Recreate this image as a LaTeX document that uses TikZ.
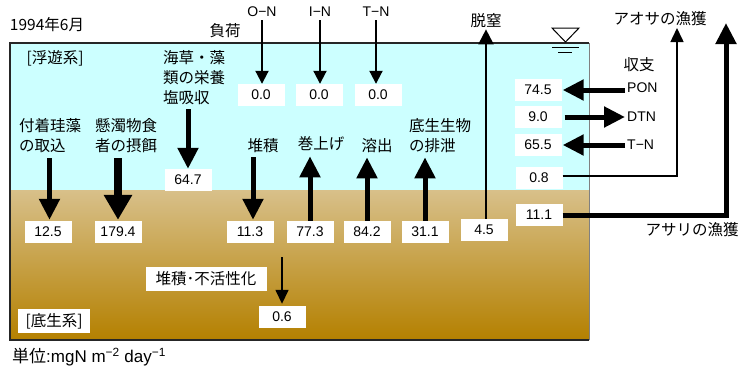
\documentclass[tikz,border=0pt]{standalone}
\usepackage{fontspec}
\setmainfont{Liberation Sans}
\newfontfamily\jp{Noto Sans CJK JP}
\usetikzlibrary{arrows.meta}
\definecolor{water}{RGB}{204,255,255}
\definecolor{sedtop}{RGB}{216,192,138}
\definecolor{sedbot}{RGB}{180,128,0}
\begin{document}
\begin{tikzpicture}[x=1pt,y=-1pt,
  jl/.style={inner sep=0pt, font=\jp\fontsize{15.5}{20}\selectfont, align=left},
  lat/.style={inner sep=0pt, font=\fontsize{14}{16}\selectfont},
  num/.style={fill=white, minimum width=47pt, minimum height=22pt, inner sep=0pt, font=\fontsize{14}{16}\selectfont},
  wbox/.style={fill=white, inner sep=0pt, minimum height=24pt, font=\jp\fontsize{15.5}{20}\selectfont},
  big/.style={line width=5pt, -{Triangle[width=20pt,length=21pt]}},
  fat/.style={line width=8pt, -{Triangle[width=27pt,length=25pt]}},
  thin/.style={line width=2pt, -{Triangle[width=13pt,length=13pt]}},
  hair/.style={line width=1.5pt, -{Triangle[width=13pt,length=14pt]}}
  ]
\useasboundingbox (0,0) rectangle (741,370);
% background
\fill[water] (10,43) rectangle (589,190);
\shade[top color=sedtop, bottom color=sedbot] (10,190) rectangle (589,340);
\draw[gray, line width=1pt] (589,43) -- (589,340);
\draw[black!85, line width=1.3pt] (589,43) -- (10,43) -- (10,340) -- (589,340);
% water surface symbol
\draw[line width=1pt] (552,28) -- (579,28) -- (565.5,42) -- cycle;
\draw[line width=1pt] (552,47) -- (579,47);
\draw[line width=1pt] (558,52) -- (572,52);

% top labels
\node[jl] (date) at (47,25) {1994年6月};
\node[jl] (fuka) at (225,31) {負荷};
\node[lat] (ON) at (262,12) {O−N};
\node[lat] (IN) at (320,12) {I−N};
\node[lat] (TN) at (376,12) {T−N};
\node[num] (n1) at (261,95) {0.0};
\node[num] (n2) at (319,95) {0.0};
\node[num] (n3) at (378,95) {0.0};
\draw[thin, shorten <=3pt] (ON.south) -- (ON.south |- n1.north);
\draw[thin, shorten <=3pt] (IN.south) -- (IN.south |- n2.north);
\draw[thin, shorten <=3pt] (TN.south) -- (TN.south |- n3.north);

% plankton side
\node[jl] (fuyu) at (55,58) {[浮遊系]};
\node[jl] (kaiso) at (194,78) {海草・藻\\類の栄養\\塩吸収};
\node[num] (b647) at (188,180) {64.7};
\draw[big, shorten <=4pt] (b647.north |- kaiso.south) -- (b647.north);

\node[jl] (fuch) at (50,136) {付着珪藻\\の取込};
\node[jl] (kend) at (126,136) {懸濁物食\\者の摂餌};
\node[num] (b125) at (48,232) {12.5};
\node[num] (b1794) at (118,232) {179.4};
\draw[big, shorten <=5pt, shorten >=1pt] ([xshift=1.5pt]b125.north |- fuch.south) -- ([xshift=1.5pt]b125.north);
\draw[fat, shorten <=5pt, shorten >=1pt] (b1794.north |- kend.south) -- (b1794.north);

\node[jl] (tai) at (263,146) {堆積};
\node[num] (b113) at (250,232) {11.3};
\draw[big, shorten <=4pt, shorten >=1pt] ([xshift=3pt]b113.north |- tai.south) -- ([xshift=3pt]b113.north);

\node[jl] (maki) at (321,144) {巻上げ};
\node[num] (b773) at (310,232) {77.3};
\draw[big, shorten >=5pt] (b773.north) -- (b773.north |- maki.south);

\node[jl] (yous) at (377,146) {溶出};
\node[num] (b842) at (367,232) {84.2};
\draw[big, shorten >=4pt] (b842.north) -- (b842.north |- yous.south);

\node[jl] (hais) at (440,136) {底生生物\\の排泄};
\node[num] (b311) at (425,232) {31.1};
\draw[big, shorten >=4pt] (b311.north) -- (b311.north |- hais.south);

\node[jl] (datsu) at (486,21) {脱窒};
\node[num] (b45) at (484,230) {4.5};
\draw[line width=2pt, -{Triangle[width=15pt,length=15pt]}, shorten >=1pt] (datsu.south |- b45.north) -- (datsu.south);

% budget
\node[jl] (shushi) at (639,65) {収支};
\node[lat, anchor=west] (PON) at (627,88) {PON};
\node[lat, anchor=west] (DTN) at (627,117) {DTN};
\node[lat, anchor=west] (TN2) at (627,145) {T−N};
\node[num] (b745) at (538,90) {74.5};
\node[num] (b90) at (538,117) {9.0};
\node[num] (b655) at (538,145) {65.5};
\draw[big, shorten <=2pt, shorten >=1pt] (PON.west |- b745) -- (b745.east);
\draw[big, shorten <=3pt, shorten >=2pt] (b90.east) -- (DTN.west |- b90);
\draw[big, shorten <=2pt, shorten >=1pt] (TN2.west |- b655) -- (b655.east);

\node[num] (b08) at (539,178) {0.8};
\node[jl] (aosa) at (660,19) {アオサの漁獲};
\coordinate (aosaEnd) at (677,28);
\draw[hair] ([yshift=2pt]b08.east) -| (aosaEnd);

\node[num] (b111) at (539,215) {11.1};
\node[jl] (asari) at (692,230) {アサリの漁獲};
\coordinate (asariEnd) at (726,23);
\draw[big] (b111.east) -| (asariEnd);

% benthic
\node[wbox, minimum width=121pt] (inact) at (206,279) {堆積･不活性化};
\coordinate (inS) at (282,257);
\node[num] (b06) at (282,317) {0.6};
\draw[hair, shorten >=2pt] (inS) -- (b06.north);
\node[wbox, minimum width=72pt] (teisei) at (54,321) {[底生系]};

% unit
\node[inner sep=0pt, anchor=west, font=\fontsize{17}{20}\selectfont] (unit) at (12,357) {{\jp 単位}:mgN m\textsuperscript{−2} day\textsuperscript{−1}};
\end{tikzpicture}
\end{document}
